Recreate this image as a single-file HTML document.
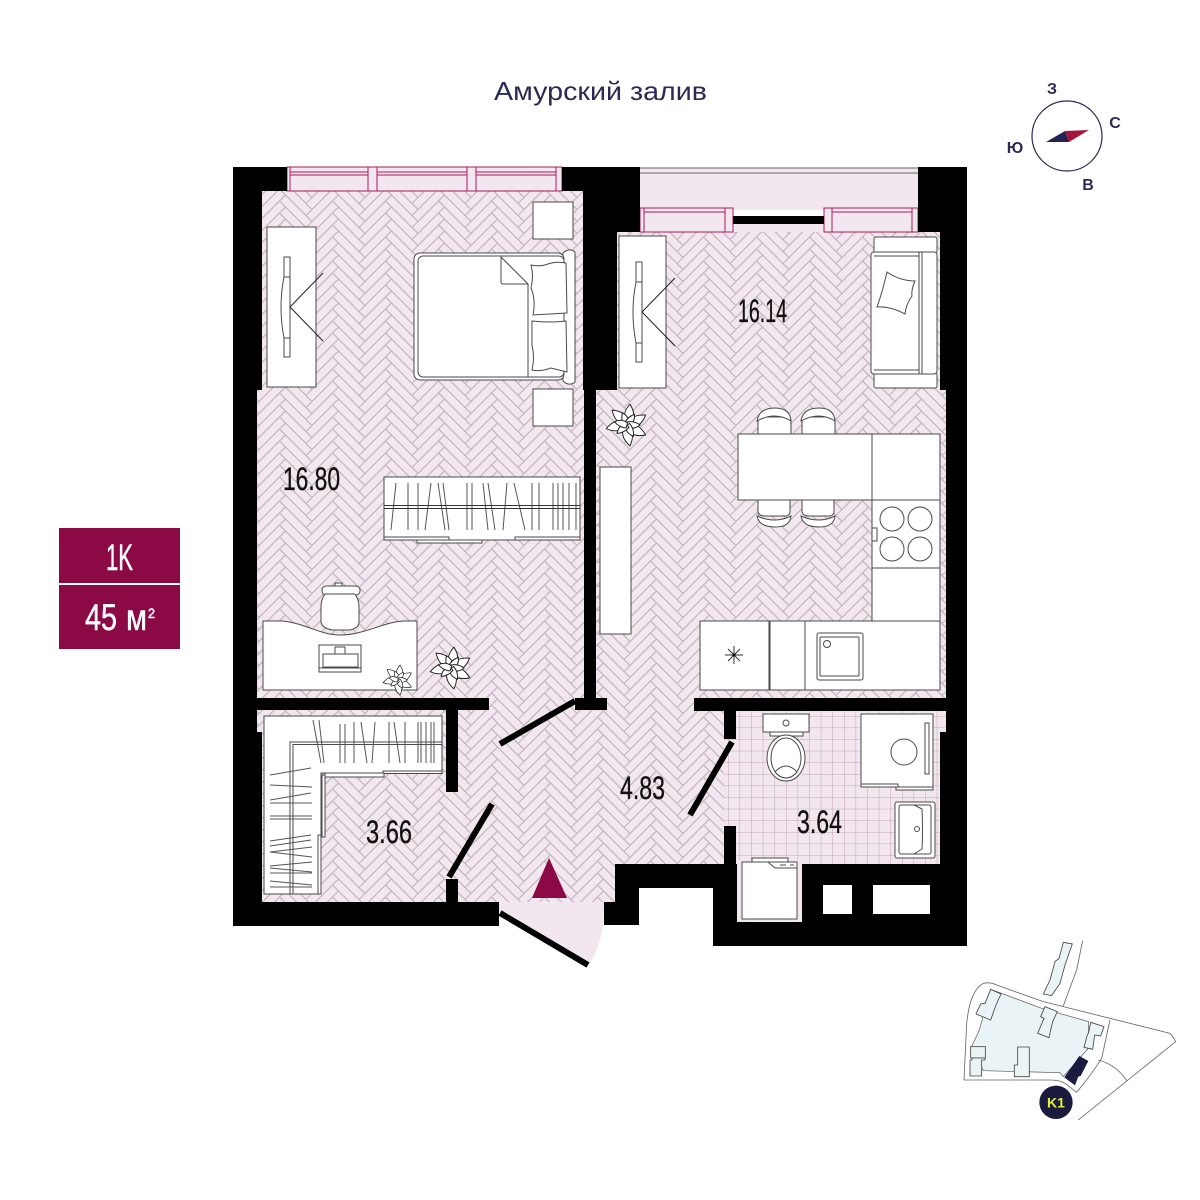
<!DOCTYPE html>
<html><head><meta charset="utf-8"><style>
html,body{margin:0;padding:0;background:#fff}
svg{display:block}
text{font-family:"Liberation Sans","DejaVu Sans",sans-serif}
.f{fill:#fff;stroke:#4a4a4a;stroke-width:1}
.n{fill:none;stroke:#4a4a4a;stroke-width:1}
.d{fill:none;stroke:#000;stroke-width:6}
.w{fill:#f3e7ef;stroke:#a8195f;stroke-width:1}
.h{fill:none;stroke:#555;stroke-width:1}
.num{fill:#111;font-size:32.5px;stroke:#111;stroke-width:.35}
.bt{fill:#fff;stroke:#fff;stroke-width:.5}
</style></head><body>
<svg width="1200" height="1200" viewBox="0 0 1200 1200" xmlns="http://www.w3.org/2000/svg">
<defs>
<pattern id="hb" width="53" height="12" patternUnits="userSpaceOnUse" patternTransform="translate(20.5,3)">
<rect width="53" height="12" fill="#f3e7ef"/>
<g id="t1" fill="none" stroke="#c2b6c0" stroke-width="1.1">
<path id="br" d="M0 0L26.5 26.5 20.5 32.5-6 6ZM47 6L53 12 26.5 38.5 20.5 32.5Z"/>
<use href="#br" y="-12"/><use href="#br" y="-24"/><use href="#br" y="-36"/>
<use href="#br" x="53"/><use href="#br" x="53" y="-12"/><use href="#br" x="53" y="-24"/><use href="#br" x="53" y="-36"/>
<use href="#br" x="-53"/><use href="#br" x="-53" y="-12"/><use href="#br" x="-53" y="-24"/><use href="#br" x="-53" y="-36"/>
</g>
</pattern>
<pattern id="tile" width="11.6" height="11.6" patternUnits="userSpaceOnUse" patternTransform="translate(728,716)">
<rect width="11.6" height="11.6" fill="#f3e7ef"/>
<path d="M0 0H11.6M0 0V11.6" stroke="#c2a3b6" stroke-width="1" fill="none"/>
</pattern>
<g id="plant" fill="#fff" stroke="#222" stroke-width="1">
<path d="M0-21C6-14 7-8 4-2L-3-4C-5-10-4-15 0-21Z" transform="rotate(8)"/>
<path d="M0-21C6-14 7-8 4-2L-3-4C-5-10-4-15 0-21Z" transform="rotate(62)"/>
<path d="M0-21C6-14 7-8 4-2L-3-4C-5-10-4-15 0-21Z" transform="rotate(118)"/>
<path d="M0-21C6-14 7-8 4-2L-3-4C-5-10-4-15 0-21Z" transform="rotate(172)"/>
<path d="M0-21C6-14 7-8 4-2L-3-4C-5-10-4-15 0-21Z" transform="rotate(-100)"/>
<path d="M0-21C6-14 7-8 4-2L-3-4C-5-10-4-15 0-21Z" transform="rotate(-45)"/>
<path d="M0-13C4-8 4-4 2 0L-3 0C-4-5-3-9 0-13Z" transform="rotate(-20)"/>
<path d="M0-13C4-8 4-4 2 0L-3 0C-4-5-3-9 0-13Z" transform="rotate(35)"/>
<path d="M0-13C4-8 4-4 2 0L-3 0C-4-5-3-9 0-13Z" transform="rotate(90)"/>
<path d="M0-13C4-8 4-4 2 0L-3 0C-4-5-3-9 0-13Z" transform="rotate(150)"/>
<path d="M0-13C4-8 4-4 2 0L-3 0C-4-5-3-9 0-13Z" transform="rotate(-130)"/>
<path d="M0-13C4-8 4-4 2 0L-3 0C-4-5-3-9 0-13Z" transform="rotate(-75)"/>
</g>
<g id="tv">
<path class="f" d="M-1-50H5V50H-1V31Q-7 0-1-30Z"/>
<path class="n" d="M-1-30H5M-1 31H5"/>
<path d="M5 0L38-34M5 0L38 34" stroke="#222" stroke-width="1" fill="none"/>
</g>
</defs>

<!-- floors -->
<rect x="257" y="191" width="330" height="510" fill="url(#hb)"/>
<rect x="257" y="700" width="195" height="205" fill="url(#hb)"/>
<path d="M452 695H727V864H615V903H452Z" fill="url(#hb)"/>
<rect x="615" y="224" width="325" height="170" fill="url(#hb)"/>
<rect x="594" y="390" width="352" height="312" fill="url(#hb)"/>
<rect x="640" y="224" width="278" height="8" fill="#f3e7ef"/>
<rect x="724" y="711" width="222" height="154" fill="url(#tile)"/>
<rect x="737" y="860" width="65" height="62" fill="#f3e7ef"/>
<path d="M499 902H604L604 912A105 105 0 0 1 589 965L499 912Z" fill="#f3e7ef"/>
<!-- loggia -->
<rect x="640" y="168" width="278" height="42" fill="#f3e7ef"/>
<path d="M640 168H918M640 173H918" stroke="#666" stroke-width="1"/>

<!-- windows -->
<rect class="w" x="287" y="167" width="275" height="24"/>
<path d="M287 172H562M287 175H562" stroke="#a8195f" stroke-width="1"/>
<rect class="w" x="368" y="167" width="9" height="24"/>
<rect class="w" x="467" y="167" width="9" height="24"/>
<rect class="w" x="556" y="167" width="6" height="24"/>
<rect class="w" x="287" y="167" width="3" height="24"/>
<rect class="w" x="640" y="208" width="93" height="24"/>
<path d="M640 212H733" stroke="#a8195f" stroke-width="1"/>
<rect class="w" x="725" y="208" width="8" height="24"/>
<rect class="w" x="640" y="208" width="4" height="24"/>
<rect class="w" x="824" y="208" width="94" height="24"/>
<path d="M824 212H918" stroke="#a8195f" stroke-width="1"/>
<rect class="w" x="824" y="208" width="8" height="24"/>
<rect class="w" x="912" y="208" width="6" height="24"/>

<!-- walls -->
<g fill="#000">
<rect x="233" y="167" width="29" height="223"/>
<rect x="233" y="167" width="54" height="24"/>
<rect x="233" y="390" width="24" height="342"/>
<rect x="233" y="732" width="29" height="194"/>
<rect x="233" y="902" width="266" height="24"/>
<rect x="257" y="698" width="232" height="12"/>
<rect x="446" y="698" width="12" height="94"/>
<rect x="446" y="879" width="12" height="24"/>
<rect x="562" y="167" width="78" height="24"/>
<rect x="583" y="167" width="34" height="223"/>
<rect x="617" y="167" width="23" height="65"/>
<rect x="584" y="390" width="12" height="315"/>
<rect x="575" y="698" width="32" height="12"/>
<rect x="733" y="216" width="91" height="8"/>
<rect x="918" y="167" width="49" height="65"/>
<rect x="940" y="232" width="27" height="158"/>
<rect x="946" y="390" width="21" height="342"/>
<rect x="940" y="732" width="27" height="214"/>
<rect x="694" y="698" width="273" height="13"/>
<rect x="724" y="698" width="12" height="41"/>
<rect x="724" y="826" width="12" height="62"/>
<rect x="615" y="864" width="109" height="24"/>
<rect x="615" y="864" width="24" height="61"/>
<rect x="604" y="902" width="35" height="23"/>
<rect x="713" y="864" width="24" height="82"/>
<rect x="713" y="922" width="254" height="24"/>
<rect x="802" y="864" width="165" height="82"/>
</g>
<rect x="823" y="885" width="29" height="29" fill="#fff"/>
<rect x="873" y="885" width="57" height="29" fill="#fff"/>

<!-- doors -->
<path class="d" d="M575 701L500 744M492 804L449 877M732 742L690 815M500 913L588 965"/>
<path d="M532 898L549 858 567 898Z" fill="#8b0a45"/>

<!-- bedroom furniture -->
<rect class="f" x="267" y="227" width="49" height="160"/>
<use href="#tv" x="285" y="307"/>
<rect class="f" x="533" y="202" width="40" height="37"/>
<rect class="f" x="533" y="389" width="40" height="37"/>
<path class="f" d="M563 253C567 249 572 249 575 252V382C572 385 567 385 563 381Z"/>
<rect class="f" x="414" y="253" width="150" height="127" rx="6"/>
<rect class="f" x="418" y="256" width="146" height="121" rx="5"/>
<path class="n" d="M528 284V377"/>
<path class="f" d="M501 257L528 284H503Q501 284 501 282Z"/>
<path class="f" d="M531 265Q540 267 548 264T566 263L567 313 533 315Q536 300 531 288Q534 276 531 265Z"/>
<path class="f" d="M532 321Q550 323 566 321L567 372 551 368Q540 372 532 370Q535 358 532 345Z"/>

<!-- wardrobe -->
<rect class="f" x="384" y="477" width="196" height="63"/>
<path class="h" d="M391 530L396 483M408 530V483M418 530V483M425 530L431 483M445 530L438 483M449 530L443 483M467 530V483M472 530V483M488 530L483 483M495 530L488 483M503 530L507 483M525 530L514 483M532 530V483M539 530V483M553 530V483M558 530V483M563 530V483M569 530V483M576 530V483"/>
<path d="M384 505.500H580M384 508.500H580" stroke="#333" stroke-width="1"/>
<rect class="f" x="384" y="537" width="65" height="3"/>
<rect class="f" x="417" y="540" width="65" height="3"/>
<rect class="f" x="515" y="537" width="65" height="3"/>

<!-- desk -->
<path class="f" d="M263 621H282C305 623 320 635 340 635C365 635 385 621 405 621H417V690H263Z"/>
<rect class="f" x="335" y="583" width="7" height="4"/>
<rect class="f" x="322" y="586" width="38" height="9" rx="4"/>
<path class="f" d="M325 594Q321 600 321 606V622Q322 628 332 630H350Q359 628 359 622V606Q359 600 355 594Z"/>
<rect class="f" x="319" y="645" width="42" height="27"/>
<rect class="f" x="323" y="654" width="35" height="13"/>
<rect class="f" x="335" y="647" width="10" height="7"/>
<path class="n" d="M319 668H361"/>
<use href="#plant" x="398" y="680" transform="translate(398,680) scale(.72) translate(-398,-680)"/>
<use href="#plant" x="451" y="668"/>
<use href="#plant" x="627" y="425"/>

<!-- closet -->
<path class="f" d="M264 716H442V773H321V894H264Z"/>
<path class="n" d="M442 742H290V894M442 744.500H293V894"/>
<path class="h" d="M313 720L321 763M319 720L324 763M340 724V763M345 724V763M354 722V763M361 722L367 763M375 722L372 763M389 722V763M394 722L400 763M405 722V763M418 722V763M421 722V763M426 722V763M431 722V763M434 722V763"/>
<path class="h" d="M270 775L311 768M270 785L312 787M270 800L311 793M270 803L312 803M270 816L312 816M270 819L312 819M270 841L311 835M270 846L311 840M270 852L312 847M270 852L312 857M270 866L312 862M270 868L312 872M270 873L312 873M270 881L312 885M270 887L312 887"/>
<rect class="f" x="383" y="771" width="59" height="2.500"/>
<rect class="f" x="325" y="773" width="59" height="4"/>
<rect class="f" x="322" y="775" width="3" height="62"/>
<rect class="f" x="318" y="835" width="3" height="59"/>

<!-- living -->
<rect class="f" x="619" y="236" width="47" height="152"/>
<use href="#tv" x="637" y="312"/>
<rect class="f" x="874" y="237" width="63" height="16" rx="2"/>
<rect class="f" x="874" y="373" width="63" height="15" rx="2"/>
<rect class="f" x="871" y="252" width="66" height="122" rx="3"/>
<path class="n" d="M919 252V374M922 252V374M874 256H919M874 370H919"/>
<path class="f" d="M887 272Q900 281 915 281Q911 290 912 296Q906 304 905 314Q890 306 877 307Q883 290 887 272Z"/>
<!-- chairs -->
<path class="f" d="M758 434V421Q759 418 762 417H787Q791 418 791 421V434Z"/>
<path class="f" d="M757 421Q759 408 775 408Q790 408 791 421Q775 411 757 421Z"/>
<path class="f" d="M802 434V421Q803 418 806 417H831Q835 418 835 421V434Z"/>
<path class="f" d="M801 421Q803 408 819 408Q834 408 835 421Q819 411 801 421Z"/>
<path class="f" d="M758 500V512Q759 516 765 516H786Q790 515 790 512V500Z"/>
<path class="f" d="M757 516Q759 527 775 527Q790 527 791 516Q775 524 757 516Z"/>
<path class="f" d="M802 500V512Q803 516 809 516H830Q834 515 834 512V500Z"/>
<path class="f" d="M801 516Q803 527 819 527Q834 527 835 516Q819 524 801 516Z"/>
<rect class="f" x="738" y="434" width="134" height="66"/>
<rect class="f" x="872" y="434" width="68" height="66"/>
<rect class="f" x="872" y="500" width="68" height="68"/>
<rect class="f" x="872" y="568" width="68" height="53"/>
<circle class="f" cx="892" cy="519" r="12"/><circle class="f" cx="920" cy="519" r="12"/>
<circle class="f" cx="892" cy="549" r="12"/><circle class="f" cx="920" cy="549" r="12"/>
<rect class="f" x="872" y="528" width="5" height="13"/>
<rect class="f" x="600" y="467" width="31" height="167"/>
<rect class="f" x="700" y="621" width="240" height="69"/>
<path class="n" d="M769 621V690M770 621V690M805 621V690"/>
<path d="M734 646V664M725 655H743M728 649L740 661M740 649L728 661" stroke="#333" stroke-width="1" fill="none"/>
<circle cx="734" cy="655" r="1.500" fill="#000"/>
<rect class="f" x="817" y="633" width="46" height="47" rx="2"/>
<rect class="f" x="820" y="637" width="39" height="39" rx="1"/>
<circle class="f" cx="827" cy="644" r="3.500"/>

<!-- bath -->
<rect class="f" x="770" y="732" width="33" height="4"/>
<ellipse class="f" cx="786" cy="758" rx="19" ry="23"/>
<ellipse class="f" cx="786" cy="758" rx="15" ry="20"/>
<path class="f" d="M775 772Q786 760 797 772Q792 778 786 778Q780 778 775 772Z"/>
<rect class="f" x="763" y="714" width="46" height="18"/>
<circle class="f" cx="786" cy="723" r="3"/>
<rect class="f" x="861" y="714" width="72" height="73"/>
<circle class="f" cx="904" cy="752" r="13"/>
<rect class="f" x="925" y="723" width="4" height="51"/>
<rect class="f" x="861" y="784" width="37" height="3"/>
<rect class="f" x="896" y="787" width="37" height="3"/>
<rect class="f" x="895" y="802" width="40" height="56" rx="2"/>
<rect class="f" x="899" y="805" width="32" height="49" rx="2"/>
<path class="n" d="M914 805L922 809Q923 829 922 849L914 854"/>
<circle class="f" cx="917" cy="829" r="2.500"/>
<rect class="f" x="752" y="858" width="36" height="4"/>
<rect class="f" x="742" y="862" width="55" height="57"/>
<path class="n" d="M768 862L775 868H797M780 865H786M790 865H794"/>

<!-- labels -->
<text class="num" x="283" y="490" textLength="57" lengthAdjust="spacingAndGlyphs">16.80</text>
<text class="num" x="738" y="322" textLength="49" lengthAdjust="spacingAndGlyphs">16.14</text>
<text class="num" x="366" y="843" textLength="46" lengthAdjust="spacingAndGlyphs">3.66</text>
<text class="num" x="620" y="799" textLength="45" lengthAdjust="spacingAndGlyphs">4.83</text>
<text class="num" x="797" y="833" textLength="45" lengthAdjust="spacingAndGlyphs">3.64</text>
<text x="494" y="100" font-size="26" fill="#2a2a55" textLength="213" lengthAdjust="spacingAndGlyphs">Амурский залив</text>

<!-- badge -->
<rect x="59" y="528" width="121" height="55" fill="#8b0a45"/>
<rect x="59" y="585" width="121" height="64" fill="#8b0a45"/>
<text class="bt" x="106" y="570" font-size="37" textLength="27" lengthAdjust="spacingAndGlyphs">1K</text>
<text class="bt" x="85" y="630" font-size="37" textLength="32" lengthAdjust="spacingAndGlyphs">45</text>
<text class="bt" x="126" y="630" font-size="37" textLength="21" lengthAdjust="spacingAndGlyphs">м</text>
<text class="bt" x="148" y="618" font-size="14" textLength="7" lengthAdjust="spacingAndGlyphs">2</text>

<!-- compass -->
<circle cx="1067" cy="136" r="35" fill="none" stroke="#2a2a55" stroke-width="1.200"/>
<path d="M1046 142L1065 131 1069 142Z" fill="#23234f"/>
<path d="M1065 131L1089 130 1069 142Z" fill="#a3153f"/>
<g font-size="16" font-weight="bold" fill="#2a2a55" text-anchor="middle">
<text x="1052" y="94">З</text>
<text x="1115" y="128">С</text>
<text x="1088" y="190">В</text>
<text x="1015" y="153">Ю</text>
</g>

<!-- site map -->
<g transform="translate(950,930) scale(.3333)">
<path d="M122 178L275 235 416 275 415 355 340 440 330 428 100 422 65 350 88 300Z" fill="#eaf3f6" stroke="#555" stroke-width="2"/>
<path d="M42 450L50 280Q60 180 100 160Q120 155 140 165L280 215 660 310Q670 320 677 335L385 570M480 270L455 385Q420 440 380 487L345 460Q330 450 300 450L42 450M398 32L380 120 350 200 340 228M445 390Q500 405 530 452" fill="none" stroke="#666" stroke-width="2.500"/>
<g fill="#eaf3f6" stroke="#444" stroke-width="2.500">
<path d="M340 37L367 42 345 105 330 160 305 197 280 192 300 150 315 95 327 85Z"/>
<path d="M122 178L153 192 138 225 122 270 78 252 92 222 105 220Z"/>
<path d="M285 230L322 245 308 275 297 323 263 310 282 265 272 260Z"/>
<path d="M422 277L462 290 452 318 434 315 428 358 402 352 412 315 416 308Z"/>
<rect x="62" y="350" width="44" height="34"/>
<path d="M66 384H105V390H95V438H60V390H66Z"/>
<path d="M203 351H238V440H193V405H203Z"/>
</g>
<path d="M388 378L415 393 392 438 385 440 375 466 343 442Z" fill="#1b1b40"/>
<circle cx="318" cy="517" r="50" fill="#1b1b40"/>
<text x="318" y="532" font-size="42" font-weight="bold" fill="#e4f03c" text-anchor="middle">K1</text>
</g>
</svg>
</body></html>
